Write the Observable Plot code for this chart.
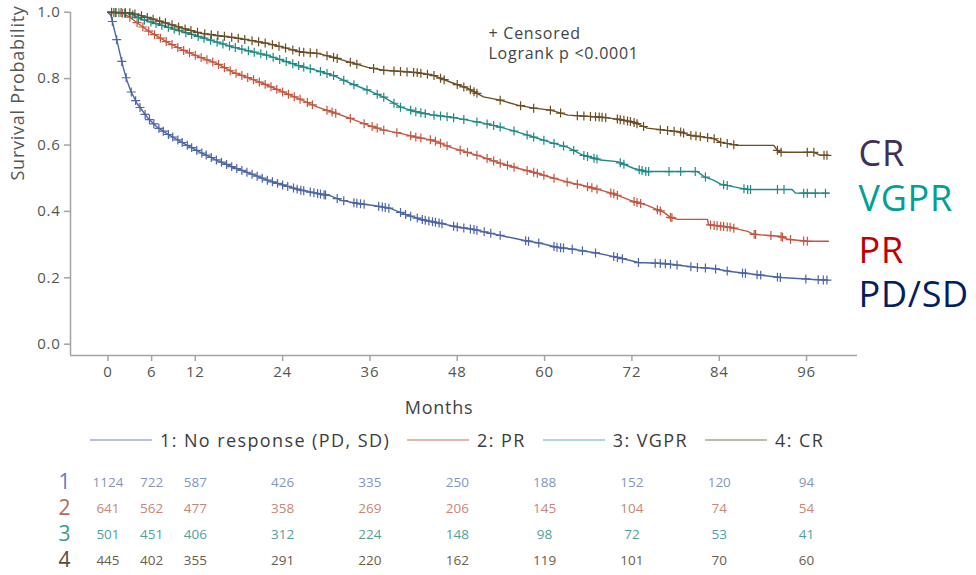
<!DOCTYPE html>
<html>
<head>
<meta charset="utf-8">
<script src="https://cdn.jsdelivr.net/npm/d3@7"></script>
<script src="https://cdn.jsdelivr.net/npm/@observablehq/plot@0.6"></script>
<style>
  body { margin: 0; background: #fff; font-family: "Open Sans", sans-serif; }
  #chart { position: relative; width: 976px; height: 575px; overflow: hidden; }
  #chart > figure, #chart > svg { display: block; margin: 0; }
  #chart .legend { display: flex; align-items: center; height: 22px; padding-left: 90px; margin-top: 9px; margin-bottom: 9px;
            font-size: 18px; letter-spacing: 0.078em; color: #3c3c3c; white-space: nowrap; }
  #chart .legend .item { display: flex; align-items: center; margin-right: 17px; }
  #chart .legend svg { display: block; margin-right: 8px; }
</style>
</head>
<body>
<div id="chart"></div>
<script>
// ---- Kaplan–Meier curves: months and survival probability per response group ----
const groups = ["PD/SD", "PR", "VGPR", "CR"];
const legendLabels = ["1: No response (PD, SD)", "2: PR", "3: VGPR", "4: CR"];
const rowLabels = ["1", "2", "3", "4"];

const pdsdMonths = [0, 0.4, 1.0, 1.6, 2.1, 2.6, 3.1, 4.0, 5.4, 6.8, 8.2, 10.4, 12.7, 15.0, 17.2, 19.6, 21.9, 24.1, 26.5, 28.8,
  30.6, 32.0, 34.3, 36.5, 38.8, 41.1, 43.4, 45.7, 48.0, 50.2, 52.6, 54.9, 57.1, 59.4, 61.7, 63.9, 67.3, 69.5, 71.8, 72.9,
  76.3, 78.7, 81.0, 83.2, 85.5, 87.9, 90.1, 92.4, 94.8, 97.0, 98.9];
const pdsdSurv = [1.0, 0.99, 0.936, 0.88, 0.833, 0.795, 0.764, 0.725, 0.683, 0.653, 0.633, 0.605, 0.578, 0.554, 0.533, 0.514, 0.494, 0.479, 0.464, 0.454,
  0.447, 0.434, 0.424, 0.418, 0.409, 0.389, 0.374, 0.364, 0.353, 0.346, 0.334, 0.323, 0.313, 0.304, 0.292, 0.286, 0.274, 0.264, 0.252, 0.246,
  0.243, 0.237, 0.231, 0.228, 0.219, 0.213, 0.207, 0.201, 0.198, 0.195, 0.193];

const prMonths = [0, 2.0, 3.0, 4.5, 5.8, 8.2, 10.4, 12.7, 15.0, 17.2, 19.6, 21.9, 24.1, 26.5, 28.8, 31.0, 33.3, 35.7, 37.9, 40.2,
  42.5, 44.7, 47.1, 49.4, 51.6, 53.9, 56.3, 58.5, 60.8, 63.2, 65.3, 67.7, 69.5, 71.8, 74.1, 76.4, 77.3, 78.3, 82.4, 82.5,
  85.5, 87.9, 88.7, 92.4, 93.4, 96.1, 99.0];
const prSurv = [1.0, 0.997, 0.985, 0.96, 0.94, 0.909, 0.885, 0.864, 0.845, 0.819, 0.80, 0.78, 0.759, 0.737, 0.714, 0.698, 0.68, 0.66, 0.645, 0.635,
  0.623, 0.614, 0.593, 0.578, 0.563, 0.545, 0.53, 0.518, 0.503, 0.488, 0.478, 0.464, 0.453, 0.433, 0.418, 0.397, 0.382, 0.376, 0.376, 0.36,
  0.352, 0.340, 0.331, 0.325, 0.316, 0.310, 0.310];

const vgprMonths = [0, 3.1, 4.5, 8.2, 12.7, 17.2, 21.9, 26.5, 28.8, 31.0, 33.3, 35.7, 37.9, 40.2, 42.5, 44.7, 47.1, 49.4, 51.6, 53.9,
  56.3, 58.5, 60.8, 63.2, 65.3, 67.7, 70.0, 72.2, 73.9, 81.0, 81.9, 83.2, 84.2, 86.9, 87.9, 94.0, 94.5, 99.0];
const vgprSurv = [1.0, 0.996, 0.98, 0.955, 0.925, 0.895, 0.87, 0.837, 0.824, 0.809, 0.786, 0.765, 0.744, 0.714, 0.699, 0.69, 0.684, 0.675, 0.666, 0.654,
  0.639, 0.624, 0.608, 0.593, 0.569, 0.555, 0.55, 0.53, 0.52, 0.52, 0.505, 0.494, 0.482, 0.47, 0.466, 0.466, 0.455, 0.455];

const crMonths = [0, 3.1, 4.5, 8.2, 10.4, 12.7, 15.0, 17.2, 19.6, 21.9, 24.1, 26.5, 28.8, 31.0, 33.3, 35.7, 37.9, 42.5, 44.7, 47.1,
  49.4, 51.6, 53.9, 56.3, 58.5, 60.8, 63.2, 67.7, 70.0, 72.2, 74.1, 78.7, 80.1, 83.2, 84.2, 86.5, 91.5, 92.0, 92.4, 97.0, 97.9, 99.0];
const crSurv = [1.0, 0.998, 0.99, 0.966, 0.951, 0.937, 0.93, 0.924, 0.915, 0.906, 0.894, 0.88, 0.876, 0.864, 0.849, 0.834, 0.825, 0.818, 0.81, 0.789,
  0.771, 0.745, 0.735, 0.72, 0.711, 0.705, 0.69, 0.684, 0.678, 0.669, 0.651, 0.639, 0.629, 0.62, 0.608, 0.599, 0.599, 0.584, 0.578, 0.578, 0.569, 0.569];

// ---- Censoring times (months) ----
const pdsdCensored = [0.6, 1.2, 1.9, 2.5, 3.2, 3.8, 4.4, 5.1, 5.7, 6.3, 7.0, 7.6, 8.3, 8.9, 9.6, 10.2, 10.9, 11.5, 12.2, 12.9,
  13.5, 14.2, 14.9, 15.6, 16.3, 17.0, 17.7, 18.4, 19.1, 19.8, 20.5, 21.2, 21.9, 22.6, 23.3, 24.0, 24.7, 25.5, 26.0, 26.5,
  26.9, 27.8, 28.3, 28.8, 29.2, 29.7, 29.9, 31.5, 32.4, 33.8, 34.2, 34.7, 35.2, 37.2, 37.7, 38.1, 38.6, 40.2, 40.9, 41.6,
  42.5, 43.2, 43.6, 44.1, 44.6, 45.0, 45.5, 45.9, 47.5, 48.0, 48.9, 49.8, 50.3, 50.7, 51.7, 52.6, 53.9, 57.4, 57.8, 59.2,
  61.3, 61.7, 62.2, 62.6, 63.8, 65.2, 67.0, 69.5, 70.0, 70.7, 72.9, 75.2, 75.9, 76.6, 77.3, 78.2, 80.1, 81.0, 82.1, 83.5,
  85.1, 87.2, 87.6, 89.2, 89.7, 92.0, 92.4, 95.9, 97.6, 98.3, 98.8];
const prCensored = [1.0, 2.0, 3.0, 4.0, 4.8, 5.6, 6.4, 7.2, 8.0, 8.8, 9.6, 10.4, 11.2, 12.0, 12.8, 13.6, 14.4, 15.2, 16.0, 16.8,
  17.6, 18.4, 19.2, 20.0, 20.8, 21.6, 22.4, 23.2, 24.0, 24.8, 25.6, 26.4, 27.4, 28.1, 30.1, 30.8, 31.3, 33.3, 35.2, 36.3,
  37.0, 37.9, 39.7, 41.6, 42.3, 43.0, 44.3, 45.0, 45.7, 46.6, 48.4, 49.4, 50.7, 52.1, 53.0, 53.9, 54.9, 55.8, 57.6, 58.5,
  59.0, 59.9, 61.3, 63.1, 64.5, 65.9, 66.5, 67.2, 69.1, 69.5, 70.0, 72.3, 72.7, 73.2, 75.5, 75.9, 77.3, 77.5, 82.8, 83.3,
  83.7, 84.2, 84.6, 85.1, 85.5, 86.0, 88.8, 89.0, 91.1, 92.5, 92.7, 93.8, 95.6, 96.1];
const vgprCensored = [0.8, 1.5, 2.3, 3.4, 4.2, 5.0, 5.9, 6.6, 7.4, 8.3, 9.1, 9.8, 10.7, 11.5, 12.4, 13.2, 14.1, 15.0, 15.8, 16.7,
  17.5, 18.4, 19.3, 20.1, 21.0, 21.8, 22.7, 23.6, 24.5, 25.4, 26.2, 26.9, 27.8, 29.2, 30.1, 31.0, 32.4, 33.8, 35.6, 37.0,
  37.9, 39.3, 40.2, 41.6, 42.3, 43.0, 43.6, 44.8, 45.7, 46.6, 47.5, 48.9, 50.7, 52.1, 53.0, 53.9, 55.8, 57.6, 58.5, 59.9,
  61.3, 62.6, 64.0, 65.4, 65.9, 66.8, 67.2, 70.4, 70.9, 73.0, 73.4, 73.9, 74.3, 77.1, 78.7, 80.7, 82.1, 84.6, 85.1, 87.4,
  87.9, 88.3, 92.0, 92.9, 95.6, 96.1, 97.2, 98.6];
const crCensored = [0.5, 1.1, 1.8, 2.4, 3.0, 3.7, 4.6, 5.4, 6.2, 7.1, 7.9, 8.8, 9.7, 10.6, 11.4, 12.3, 13.3, 14.2, 15.1, 16.0,
  17.0, 17.9, 18.8, 19.8, 20.7, 21.6, 22.6, 23.5, 24.4, 25.4, 26.3, 26.9, 27.8, 28.7, 30.1, 31.0, 31.5, 33.3, 34.2, 36.5,
  37.9, 39.3, 40.2, 41.1, 42.0, 42.5, 43.0, 43.9, 44.8, 45.7, 46.2, 48.0, 48.9, 49.8, 50.3, 50.7, 53.9, 56.7, 58.5, 60.8,
  62.2, 64.5, 65.4, 66.3, 67.0, 67.5, 67.9, 68.4, 70.0, 70.4, 70.9, 71.4, 71.8, 72.3, 72.7, 73.6, 75.9, 76.9, 77.8, 78.7,
  79.1, 80.1, 80.8, 81.4, 82.4, 83.3, 84.2, 85.1, 86.0, 92.0, 92.5, 96.1, 97.0, 98.4, 98.8];

// ---- Number at risk ----
const riskMonths = [0, 6, 12, 24, 36, 48, 60, 72, 84, 96];
const pdsdAtRisk = [1124, 722, 587, 426, 335, 250, 188, 152, 120, 94];
const prAtRisk = [641, 562, 477, 358, 269, 206, 145, 104, 74, 54];
const vgprAtRisk = [501, 451, 406, 312, 224, 148, 98, 72, 53, 41];
const crAtRisk = [445, 402, 355, 291, 220, 162, 119, 101, 70, 60];

const yTicks = [0, 0.2, 0.4, 0.6, 0.8, 1.0];
const monthTicks = [0, 6, 12, 24, 36, 48, 60, 72, 84, 96];

// ---- Styling ----
const curveColors = ["#4c65a7", "#c4553f", "#1e8a84", "#6b4d23"];
const legendColors = ["#9daed0", "#d9a093", "#93cbc7", "#aaa090"];
const riskColors = ["#8396c0", "#c98676", "#4fa29c", "#6b5c4a"];
const rowLabelColors = ["#5f7bbf", "#b5695a", "#3f9993", "#5a4a38"];
const sideLabelColors = ["#403152", "#00a096", "#c00000", "#002060"];
const sideLabels = ["CR", "VGPR", "PR", "PD/SD"];
const sideLabelBaselines = [165, 210, 262, 306];

const xDomain = [-5.15, 103];
const yDomain = [-0.034, 1.0202];
const W = 976, marginLeft = 70, marginRight = 119;
const axisGray = "#a3a3a3";

const curveSets = [
  [pdsdMonths, pdsdSurv, pdsdCensored, pdsdAtRisk],
  [prMonths, prSurv, prCensored, prAtRisk],
  [vgprMonths, vgprSurv, vgprCensored, vgprAtRisk],
  [crMonths, crSurv, crCensored, crAtRisk]
];

// survival value on the drawn curve at time t
function survivalAt(months, surv, t) {
  const i = d3.bisectRight(months, t) - 1;
  if (i < 0) return surv[0];
  if (i >= months.length - 1) return surv[surv.length - 1];
  const t0 = months[i], t1 = months[i + 1];
  if (t1 === t0) return surv[i + 1];
  return surv[i] + (surv[i + 1] - surv[i]) * (t - t0) / (t1 - t0);
}

const curveRows = [], censorRows = [], riskRows = [];
curveSets.forEach(([months, surv, cens, risk], g) => {
  months.forEach((m, i) => curveRows.push({group: groups[g], month: m, surv: surv[i]}));
  cens.forEach(t => censorRows.push({group: groups[g], month: t, surv: survivalAt(months, surv, t)}));
  risk.forEach((n, i) => riskRows.push({row: rowLabels[g], month: riskMonths[i], n}));
});

const chart = document.getElementById("chart");

// ---- Survival plot ----
const main = Plot.plot({
  width: W, height: 420,
  marginLeft, marginRight, marginTop: 5, marginBottom: 65,
  style: {fontFamily: "Open Sans", fontSize: "15px", letterSpacing: "0.05em", background: "#fff", overflow: "visible"},
  x: {domain: xDomain},
  y: {domain: yDomain},
  color: {domain: groups, range: curveColors},
  marks: [
    Plot.ruleX([xDomain[0]], {y1: yDomain[0], y2: yDomain[1], stroke: axisGray, strokeWidth: 1.5, insetBottom: -7}),
    Plot.ruleY([yDomain[0]], {stroke: axisGray, strokeWidth: 1.5}),
    Plot.axisY({ticks: yTicks, tickFormat: d => d.toFixed(1), tickSize: 6, tickPadding: 4,
      stroke: axisGray, strokeWidth: 1.5, fill: "#555", fontSize: 15, label: null}),
    Plot.axisX({ticks: monthTicks, tickSize: 6, tickPadding: 5,
      stroke: axisGray, strokeWidth: 1.5, fill: "#555", fontSize: 15, label: null}),
    Plot.text(["Survival Probability"], {frameAnchor: "left", dx: -52, rotate: -90, fill: "#555", fontSize: 18}),
    Plot.text(["Months"], {x: 45.5, frameAnchor: "bottom", dy: 53, fill: "#444", fontSize: 18, lineAnchor: "middle"}),
    Plot.line(curveRows, {x: "month", y: "surv", z: "group", stroke: "group", strokeWidth: 1.4}),
    Plot.dot(censorRows, {x: "month", y: "surv", stroke: "group", symbol: "plus", r: 3, strokeWidth: 1.2}),
    Plot.text(["+ Censored\nLogrank p <0.0001"], {frameAnchor: "top-left", dx: 418, dy: 19, textAnchor: "start",
      lineAnchor: "top", lineHeight: 1.25, fill: "#444", fontSize: 16}),
    ...sideLabels.map((s, i) => Plot.text([s], {frameAnchor: "top-right", dx: 1, dy: sideLabelBaselines[i] - 5 - 0.71 * 36,
      textAnchor: "start", lineAnchor: "top", fill: sideLabelColors[i], fontSize: 36}))
  ]
});
main.querySelectorAll("text").forEach(t => { if (sideLabels.includes(t.textContent)) t.setAttribute("letter-spacing", "0.02em"); });
chart.appendChild(main);

// ---- Legend ----
const legend = d3.select(chart).append("div").attr("class", "legend");
legendLabels.forEach((label, i) => {
  const item = legend.append("div").attr("class", "item");
  const s = item.append("svg").attr("width", 62).attr("height", 4);
  s.append("line").attr("x1", 0).attr("x2", 62).attr("y1", 2).attr("y2", 2)
    .attr("stroke", legendColors[i]).attr("stroke-width", 1.6);
  item.append("span").text(label);
});

// ---- Number at risk table ----
const risk = Plot.plot({
  width: W, height: 115,
  marginLeft, marginRight, marginTop: 0, marginBottom: 0,
  style: {fontFamily: "Open Sans", background: "#fff", overflow: "visible"},
  x: {domain: xDomain, axis: null},
  y: {type: "point", domain: rowLabels, range: [21, 100], padding: 0, axis: null},
  color: {domain: rowLabels, range: riskColors},
  marks: [
    Plot.text(riskRows, {x: "month", y: "row", text: d => String(d.n), fill: "row", fontSize: 13.5}),
    ...rowLabels.map((r, i) => Plot.text([r], {y: d => d, frameAnchor: "left", dx: -12, text: d => d,
      fontSize: 21, fontWeight: 400, lineHeight: 1, fill: rowLabelColors[i]}))
  ]
});
chart.appendChild(risk);
</script>
</body>
</html>
